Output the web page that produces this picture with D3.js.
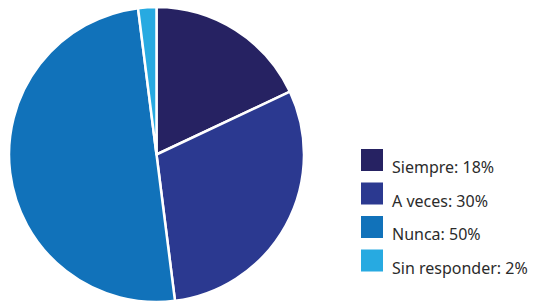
<!DOCTYPE html>
<html>
<head>
<meta charset="utf-8">
<script src="https://cdn.jsdelivr.net/npm/d3@7"></script>
<style>
  body { margin: 0; background: #fff; }
  svg text { font-family: "Noto Sans", sans-serif; fill: #2b2b2b; }
</style>
</head>
<body>
<div class="graph"></div>
<script>
// datos del gráfico
const labels = ['Siempre', 'A veces', 'Nunca', 'Sin responder']
const values = [18, 30, 50, 2]
const colors = ['#262262', '#2b3990', '#1172ba', '#27aae1']

const width = 533, height = 303
const cx = 156.5, cy = 154.5, radius = 147.5

const svg = d3.select('.graph').append('svg')
  .attr('width', width)
  .attr('height', height)

const pie = d3.pie().sort(null).value(d => d)
const arc = d3.arc().innerRadius(0).outerRadius(radius)

//绘制扇形
svg.append('g')
  .attr('transform', `translate(${cx},${cy})`)
  .selectAll('path')
  .data(pie(values))
  .enter()
  .append('path')
  .attr('d', arc)
  .attr('fill', (d, i) => colors[i])
  .attr('stroke', '#fff')
  .attr('stroke-width', 2.5)
  .attr('stroke-linejoin', 'round')

// leyenda
const legendY = d3.scaleBand().domain(labels).range([149, 283]).paddingInner(0)
const legend = svg.selectAll('.legend')
  .data(labels)
  .enter()
  .append('g')
  .attr('class', 'legend')
  .attr('transform', d => `translate(361,${legendY(d)})`)

legend.append('rect')
  .attr('width', 22)
  .attr('height', 22)
  .attr('fill', (d, i) => colors[i])

legend.append('text')
  .attr('x', 31)
  .attr('y', 24)
  .attr('font-size', 16)
  .text((d, i) => `${d}: ${values[i]}%`)
</script>
</body>
</html>
